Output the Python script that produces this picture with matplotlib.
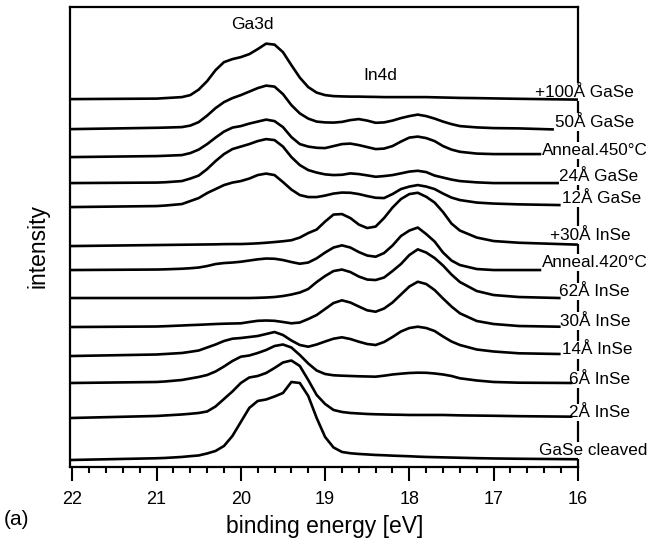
import matplotlib
matplotlib.use('Agg')
import matplotlib.pyplot as plt
from matplotlib.ticker import MultipleLocator, FuncFormatter
import numpy as np

plt.rcParams['font.family'] = ['Liberation Sans', 'DejaVu Sans']

# binding energy grid [eV]; each spectrum has one extra value at its own end point
energy = [22.0, 21.0, 20.9, 20.7, 20.6, 20.5, 20.4, 20.3, 20.2, 20.1, 20.0, 19.9, 19.8,
          19.7, 19.6, 19.5, 19.4, 19.3, 19.2, 19.1, 19.0, 18.9, 18.8, 18.7, 18.6, 18.5,
          18.4, 18.3, 18.2, 18.1, 18.0, 17.9, 17.8, 17.7, 17.6, 17.5, 17.4, 17.2, 17.0, 16.7]

labels = ['+100Å GaSe', '50Å GaSe', 'Anneal.450°C', '24Å GaSe', '12Å GaSe',
          '+30Å InSe', 'Anneal.420°C', '62Å InSe', '30Å InSe', '14Å InSe',
          '6Å InSe', '2Å InSe', 'GaSe cleaved']

# vertical offset of each trace (arbitrary units)
offsets = [368, 338, 310, 284, 260, 221, 197, 169, 140, 111, 84, 49, 7]

# energy where each trace stops
ends = [16.0, 16.3, 16.45, 16.24, 16.22, 16.0, 16.45, 16.22, 16.22, 16.22, 16.08, 16.08, 16.0]

gase_100 = [0, 0.5, 1, 2, 4, 9.5, 18, 29, 37, 40, 42, 45, 50, 55.5, 54.5, 47, 34, 21.5,
            12, 6.5, 4, 3, 2.7, 2.5, 2.5, 2.3, 2.2, 2, 2, 2, 2, 2, 2, 1.8, 1.6, 1.4, 1.2,
            1, 0.7, 0.3, -0.5]
gase_50 = [0, 1.3, 1.5, 2, 3.5, 7, 13.5, 21, 27, 31, 34, 37.5, 41, 43.5, 42.5, 35, 24,
           15.7, 10.5, 7.5, 6.7, 6.5, 7.2, 9, 10, 8.5, 6.3, 6.7, 8.5, 11, 13, 14.5, 13,
           10.5, 7.5, 5, 3, 1.7, 1, 0.7, -0.3]
anneal_450 = [0, 1, 1.3, 2, 4, 7.5, 13, 19.5, 25.5, 29.5, 31, 33.5, 35.5, 37.5, 36, 30,
              20, 13, 10.5, 9.3, 9, 11, 13, 13.5, 12, 10, 8, 8.5, 11, 15.5, 19.5, 20.5,
              19, 16, 11, 7.5, 5.3, 3.5, 3, 3, 3]
gase_24 = [0, 0.5, 0.8, 2, 4.5, 7.5, 14, 22, 29, 34, 36.5, 39, 42, 44, 43, 36.5, 26, 18,
           13, 10.5, 8.7, 8, 8.3, 9.7, 9, 7.7, 6.3, 7, 8, 9.7, 11.5, 12.3, 11, 7.5, 5.5,
           3.5, 2, 0.7, 0, 0, 0]
gase_12 = [0, 1, 1.5, 3, 6, 9, 14, 18, 22, 24.5, 26, 28.5, 32, 33.5, 32, 25, 17.5, 12,
           10, 10, 11.5, 13.5, 14.5, 14.3, 13, 11, 9.3, 9, 13, 18, 20.5, 22, 20.5, 18,
           13.5, 9.5, 7, 4.5, 3.5, 2.7, 2]
inse_30b = [0, 1, 1.1, 1.3, 1.4, 1.5, 1.6, 1.7, 1.9, 2, 2, 2.3, 2.7, 3.3, 4, 4.8, 5.8,
            8.5, 13, 16.5, 24.5, 31.5, 32, 28, 21.5, 18, 19.5, 28, 38.5, 47, 52, 53.3,
            49.3, 43.5, 34, 22.5, 15.5, 8.5, 5, 3.3, 1.4]
anneal_420 = [0, 0.5, 0.7, 1.3, 1.8, 2.5, 4, 6, 7, 7.5, 8.3, 9.5, 10.7, 11.5, 11.3, 10,
              8, 6.3, 7.5, 11.7, 17.5, 22.5, 24.7, 22.5, 18, 14.5, 13.3, 17, 24.5, 34,
              39.5, 42.5, 36, 28.5, 17.5, 9.5, 5, 1, 0, 0, 0]
inse_62 = [0, 0, 0, 0, 0, 0, 0, 0, 0, 0, 0, 0, 0.2, 0.5, 1, 2, 3.5, 5.5, 9, 16, 22, 27,
           28.5, 26, 21.5, 18.5, 18, 20.5, 27, 34, 43, 48.7, 45.5, 40, 32.5, 23.5, 16, 7,
           3, 1, 0]
inse_30 = [0, 0.5, 0.8, 1.5, 1.9, 2.2, 2.6, 3, 3.3, 3.5, 3.7, 5, 6.2, 6.5, 6.2, 5, 3.7,
           4.5, 8, 12, 18, 24, 26.7, 24.5, 20.5, 16.7, 15.3, 18.5, 24.5, 32.5, 40.5, 45.3,
           43, 37, 28.5, 20.5, 13.7, 6, 3, 1, 0.3]
inse_14 = [0, 1.5, 2, 3, 4.2, 5.5, 8.5, 11.5, 15, 17.3, 18, 19, 20, 22, 24, 21, 15.5, 11,
           9.3, 11.5, 14.5, 17.3, 18.7, 17, 14.3, 12, 11, 14, 19, 24.5, 28, 29.3, 28, 25,
           19.5, 14.5, 11, 6.5, 4.5, 2.7, 2]
inse_6 = [0, 1, 1.5, 3, 4.5, 6, 8, 11.5, 16.5, 22, 26.3, 27.5, 30, 33, 37, 38.5, 35.5,
          28, 19.5, 12.5, 9, 7.7, 7.3, 7, 6.7, 6.5, 6.3, 7.3, 8.5, 9.3, 10, 10.3, 10.2,
          9.5, 8.5, 7, 4.7, 2.5, 1, 0.3, 0]
inse_2 = [0, 2, 2.5, 3.5, 4.2, 5, 6.5, 11.5, 19, 26.5, 35, 40.5, 42, 45, 50, 55.5, 57.5,
          52, 38, 23, 14, 8, 6, 5, 4.5, 4, 3.7, 3.5, 3.3, 3.2, 3, 3, 3, 3, 3, 2.8, 2.6,
          2.4, 2.2, 1.8, 1.3]
gase_cleaved = [0, 1.7, 2, 3, 3.8, 4.5, 6.5, 9, 14, 24, 38, 52, 59, 60.5, 63.5, 67, 78,
                77, 64, 42, 23, 12.5, 8, 6.7, 6, 5.5, 5, 4.7, 4.3, 4, 3.7, 3.3, 3, 2.8,
                2.6, 2.4, 2.2, 1.8, 1.5, 1.2, 0.7]

spectra = [gase_100, gase_50, anneal_450, gase_24, gase_12, inse_30b, anneal_420,
           inse_62, inse_30, inse_14, inse_6, inse_2, gase_cleaved]

# label placement (left edge energy, baseline shift above trace offset)
label_x = [16.51, 16.27, 16.43, 16.22, 16.19, 16.33, 16.43, 16.22, 16.21, 16.19, 16.10, 16.10, 16.46]
label_dy = [2.5, 2.5, 2.2, 2.5, 3.8, 6.5, 2.8, 1.8, 1.5, 1.5, -0.8, 0.8, 5.2]

fig = plt.figure(figsize=(6.5, 5.5), dpi=100)
ax = fig.add_axes([0.107, 0.151, 0.782, 0.836])

for vals, off, end in zip(spectra, offsets, ends):
    x = energy + [end]
    ax.plot(x, off + np.array(vals), color='black', lw=1.9, zorder=4,
            solid_joinstyle='round')

for name, off, lx, dy in zip(labels, offsets, label_x, label_dy):
    ax.text(lx, off + dy, name, ha='left', va='baseline', fontsize=12.3,
            clip_on=False, zorder=3,
            bbox=dict(facecolor='white', edgecolor='none', pad=0.8))

ax.text(19.865, 442.5, 'Ga3d', ha='center', va='center', fontsize=12.5)
ax.text(18.34, 392, 'In4d', ha='center', va='center', fontsize=12.5)

ax.set_xlim(22.033, 16.0)
ax.set_ylim(0, 460)
ax.set_yticks([])
ax.xaxis.set_major_locator(MultipleLocator(1))
ax.xaxis.set_minor_locator(MultipleLocator(0.2))
ax.xaxis.set_major_formatter(FuncFormatter(lambda v, p: f'{v:.0f}'))
ax.tick_params(axis='x', which='major', direction='out', length=10, width=1.5,
               pad=7.5, labelsize=13)
ax.tick_params(axis='x', which='minor', direction='out', length=4.5, width=1.5)
for s in ax.spines.values():
    s.set_linewidth(1.6)

fig.text(325 / 650, 0.042, 'binding energy [eV]', ha='center', va='center', fontsize=16.5)
fig.text(0.0585, 0.553, 'intensity', rotation=90, ha='center', va='center', fontsize=16.5)
fig.text(0.006, 0.056, '(a)', ha='left', va='center', fontsize=15)

fig.savefig('out.png', dpi=100)
